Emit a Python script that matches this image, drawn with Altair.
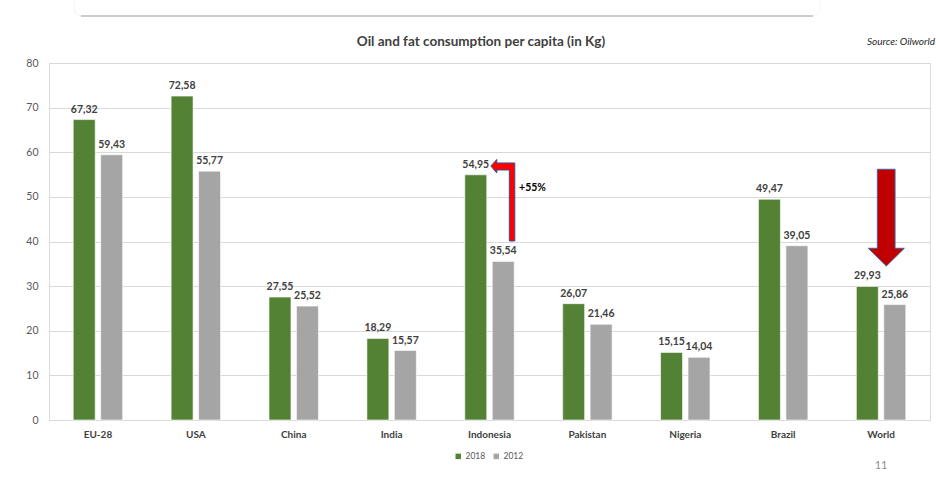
import altair as alt
import pandas as pd

categories = ["EU-28", "USA", "China", "India", "Indonesia", "Pakistan", "Nigeria", "Brazil", "World"]
values_2018 = [67.32, 72.58, 27.55, 18.29, 54.95, 26.07, 15.15, 49.47, 29.93]
values_2012 = [59.43, 55.77, 25.52, 15.57, 35.54, 21.46, 14.04, 39.05, 25.86]
years = ["2018", "2012"]
colors = ["#548235", "#a5a5a5"]
title_text = "Oil and fat consumption per capita (in Kg)"
source_text = "Source: Oilworld"
page_text = "11"
growth_text = "+55%"

FONT = "Lato"

rows = []
for c, a, b in zip(categories, values_2018, values_2012):
    rows.append({"country": c, "year": "2018", "value": a})
    rows.append({"country": c, "year": "2012", "value": b})
df = pd.DataFrame(rows)
df["label"] = df["value"].map(lambda v: f"{v:.2f}".replace(".", ","))

xscale = alt.Scale(paddingInner=0.495, paddingOuter=0.2475)
xenc = alt.X("country:N", sort=categories, scale=xscale,
             axis=alt.Axis(title=None, labelFontWeight="bold", labelFontSize=10,
                           labelColor="#404040", labelPadding=9, ticks=False,
                           domainColor="#d9d9d9", labelAngle=0, labelFont=FONT))
yenc = alt.Y("value:Q", scale=alt.Scale(domain=[0, 80], nice=False),
             axis=alt.Axis(title=None, values=list(range(0, 90, 10)), grid=True,
                           gridColor="#d9d9d9", domain=False, ticks=False,
                           labelPadding=11, labelFontSize=10.5, labelColor="#595959",
                           labelFont=FONT))
xoff = alt.XOffset("year:N", sort=years, scale=alt.Scale(paddingInner=0.2, paddingOuter=0))
color = alt.Color("year:N", sort=years, scale=alt.Scale(domain=years, range=colors),
                  legend=alt.Legend(title=None, orient="none", legendX=405, legendY=389,
                                    direction="horizontal", symbolType="square",
                                    symbolSize=30, labelFontSize=8.5, labelColor="#595959",
                                    columnPadding=6, labelOffset=3, padding=0,
                                    symbolStrokeWidth=0, labelFont=FONT))

bars = alt.Chart(df).mark_bar(stroke="#ffffff", strokeWidth=0.6).encode(
    x=xenc, y=yenc, xOffset=xoff, color=color)

labels = alt.Chart(df).mark_text(baseline="bottom", dy=-5, fontWeight="bold", fontSize=10.5,
                                 color="#404040", font=FONT).encode(
    x=alt.X("country:N", sort=categories),
    y="value:Q",
    xOffset=alt.XOffset("year:N", sort=years),
    text="label:N")

# Annotation arrows (shape geometry in pixel offsets, anchored in data space)
ind_anchor = pd.DataFrame({"country": ["Indonesia"], "value": [50.0]})
path_ind = ("M 1.3 -30.9 L 7.3 -37.4 L 7.3 -33.9 L 25.3 -33.9 L 25.3 44.1 "
            "L 19.8 44.1 L 19.8 -26.9 L 7.3 -26.9 L 7.3 -23.9 Z")
arrow_ind = alt.Chart(ind_anchor).mark_point(
    shape=path_ind, size=4, filled=True, fill="#ff0000", stroke="#2f528f",
    strokeWidth=1, opacity=1).encode(x=alt.X("country:N", sort=categories), y="value:Q")

world_anchor = pd.DataFrame({"country": ["World"], "value": [45.0]})
path_world = ("M -3.7 -49.9 L 14 -49.9 L 14 29.1 L 23.3 29.1 L 5.3 46.8 "
              "L -12.7 29.1 L -3.7 29.1 Z")
arrow_world = alt.Chart(world_anchor).mark_point(
    shape=path_world, size=4, filled=True, fill="#c00000", stroke="#4a5f9a",
    strokeWidth=1, opacity=1).encode(x=alt.X("country:N", sort=categories), y="value:Q")

growth = alt.Chart(pd.DataFrame({"country": ["Indonesia"], "value": [52.0], "t": [growth_text]})).mark_text(
    fontWeight="bold", fontSize=10.5, color="#000000", font=FONT, dx=43, baseline="middle").encode(
    x=alt.X("country:N", sort=categories), y="value:Q", text="t:N")

# Decorations: slide frame, title, source, page number
frame = alt.Chart(pd.DataFrame({"a": [0]})).mark_rect(
    fill="#ffffff", stroke="#f3f3f3", strokeWidth=1, cornerRadius=8).encode(
    x=alt.value(25), x2=alt.value(771), y=alt.value(-120), y2=alt.value(-47))
frame_line = alt.Chart(pd.DataFrame({"a": [0]})).mark_rule(color="#a0a0a0", strokeWidth=1.2).encode(
    x=alt.value(32), x2=alt.value(764), y=alt.value(-47))

title = alt.Chart(pd.DataFrame({"t": [title_text]})).mark_text(
    fontWeight="bold", fontSize=13.5, color="#404040", font=FONT, baseline="middle", align="center").encode(
    x=alt.value(432), y=alt.value(-21), text="t:N")
source = alt.Chart(pd.DataFrame({"t": [source_text]})).mark_text(
    fontStyle="italic", fontSize=10, color="#262626", font=FONT, baseline="middle", align="right").encode(
    x=alt.value(886), y=alt.value(-21), text="t:N")
page = alt.Chart(pd.DataFrame({"t": [page_text]})).mark_text(
    fontSize=11, color="#8c8c8c", font=FONT, baseline="middle", align="center").encode(
    x=alt.value(832), y=alt.value(403), text="t:N")

chart = alt.layer(frame, frame_line, bars, labels, arrow_ind, arrow_world, growth, title, source, page).properties(
    width=881, height=357,
    autosize=alt.AutoSizeParams(type="none"),
    padding={"left": 49, "top": 63, "right": 6, "bottom": 57},
    background="#ffffff",
).configure_view(stroke=None).configure(font=FONT)

chart.save("out.html", embed_options={"renderer": "svg", "actions": False})
